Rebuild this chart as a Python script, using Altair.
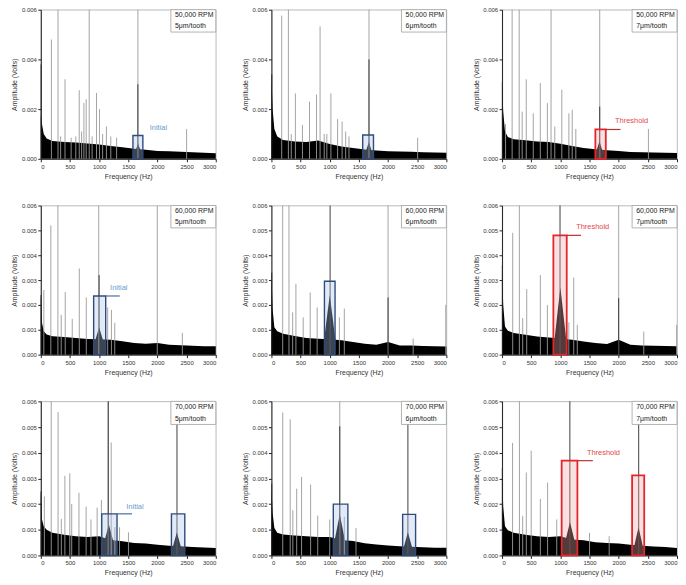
import altair as alt
import pandas as pd

# ---------------- data ----------------
FREQ_GRID = [0, 20, 50, 100, 200, 400, 600, 800, 1000, 1200, 1400, 1600, 1800, 2000, 2200, 2400, 2600, 2800, 3000]

NOISE_11 = [0.00175, 0.0014, 0.001, 0.00082, 0.00072, 0.00068, 0.00066, 0.00062, 0.00058, 0.00052, 0.00046, 0.0004, 0.00036, 0.00031, 0.0003, 0.00028, 0.00026, 0.00024, 0.00022]
NOISE_12 = [0.0033, 0.002, 0.0012, 0.0009, 0.00076, 0.0007, 0.00068, 0.00074, 0.0006, 0.0005, 0.00043, 0.00037, 0.00033, 0.0003, 0.00029, 0.00028, 0.00026, 0.00025, 0.00024]
NOISE_13 = [0.0031, 0.0019, 0.0011, 0.00088, 0.00079, 0.00075, 0.0007, 0.00068, 0.00061, 0.00052, 0.00043, 0.00038, 0.00034, 0.00031, 0.00027, 0.00026, 0.00025, 0.00024, 0.00023]
NOISE_21 = [0.0024, 0.00128, 0.00094, 0.00081, 0.00074, 0.00071, 0.00067, 0.00063, 0.00062, 0.0006, 0.00054, 0.00047, 0.00044, 0.00047, 0.0004, 0.00038, 0.00036, 0.00034, 0.00034]
NOISE_22 = [0.0033, 0.00185, 0.0011, 0.00094, 0.00084, 0.00075, 0.00067, 0.00064, 0.00062, 0.00058, 0.00051, 0.00044, 0.0004, 0.00051, 0.00037, 0.00037, 0.00035, 0.00034, 0.00033]
NOISE_23 = [0.0036, 0.002, 0.00113, 0.00096, 0.00087, 0.0008, 0.00073, 0.00069, 0.00065, 0.0006, 0.00053, 0.00047, 0.00043, 0.0006, 0.0004, 0.00037, 0.00036, 0.00035, 0.00034]
NOISE_31 = [0.0025, 0.0014, 0.00114, 0.001, 0.00088, 0.00081, 0.00075, 0.00072, 0.00075, 0.0006, 0.00055, 0.00048, 0.00046, 0.00042, 0.00038, 0.00036, 0.00033, 0.00031, 0.00029]
NOISE_32 = [0.0027, 0.00166, 0.00107, 0.00088, 0.00082, 0.00078, 0.00075, 0.00072, 0.00072, 0.0006, 0.00056, 0.00047, 0.00043, 0.00039, 0.00036, 0.00034, 0.00032, 0.0003, 0.0003]
NOISE_33 = [0.0034, 0.0019, 0.00114, 0.00098, 0.00088, 0.00081, 0.00075, 0.00072, 0.00075, 0.00062, 0.00059, 0.00051, 0.00048, 0.00046, 0.00042, 0.00038, 0.00035, 0.00033, 0.00029]

# tooth-passing humps: centre, half width, peak
HUMP_11 = ([1667], [90], [0.00062])
HUMP_12 = ([1670], [90], [0.00068])
HUMP_13 = ([1670], [90], [0.00072])
HUMP_21 = ([1000], [140], [0.0011])
HUMP_22 = ([1000], [130], [0.0024])
HUMP_23 = ([1000], [130], [0.0027])
HUMP_31 = ([1167, 2333], [140, 110], [0.0012, 0.0009])
HUMP_32 = ([1172, 2340], [140, 110], [0.0016, 0.0009])
HUMP_33 = ([1165, 2340], [140, 110], [0.0013, 0.0011])

# light (grey) spikes
LIGHT_F_11 = [182, 295, 340, 415, 520, 600, 659, 700, 739, 778, 830, 880, 955, 1006, 1060, 1125, 1200, 1300, 1665, 2500]
LIGHT_A_11 = [0.0048, 0.006, 0.0009, 0.0032, 0.00085, 0.0009, 0.00276, 0.0011, 0.00225, 0.0024, 0.006, 0.0009, 0.00265, 0.002, 0.001, 0.0013, 0.0009, 0.00085, 0.006, 0.0012]
LIGHT_F_12 = [176, 291, 340, 411, 532, 653, 773, 834, 905, 950, 1020, 1135, 1212, 1273, 1330, 1673, 2507]
LIGHT_A_12 = [0.00576, 0.006, 0.001, 0.00263, 0.00136, 0.0023, 0.00259, 0.00533, 0.001, 0.001, 0.00263, 0.0016, 0.0015, 0.0011, 0.0009, 0.006, 0.00085]
LIGHT_F_13 = [60, 173, 294, 345, 415, 535, 656, 777, 840, 904, 1025, 1146, 1203, 1265, 1675, 2510]
LIGHT_A_13 = [0.0014, 0.006, 0.006, 0.0019, 0.0032, 0.00183, 0.00305, 0.00224, 0.006, 0.0013, 0.00278, 0.00183, 0.00197, 0.0012, 0.006, 0.0012]
LIGHT_F_21 = [52, 172, 293, 350, 419, 539, 660, 780, 993, 1147, 1211, 1268, 1997, 2427]
LIGHT_A_21 = [0.0026, 0.0052, 0.006, 0.0016, 0.00252, 0.00144, 0.00347, 0.0023, 0.006, 0.0019, 0.0018, 0.00128, 0.006, 0.00088]
LIGHT_F_22 = [193, 301, 364, 420, 545, 665, 784, 1165, 1250, 2000, 2430, 2989]
LIGHT_A_22 = [0.006, 0.006, 0.0017, 0.00285, 0.0015, 0.0025, 0.0019, 0.0015, 0.00185, 0.006, 0.00065, 0.002]
LIGHT_F_23 = [183, 297, 354, 423, 657, 777, 1145, 1229, 1290, 2000, 2430, 2994]
LIGHT_A_23 = [0.0049, 0.006, 0.00147, 0.00264, 0.0032, 0.002, 0.0013, 0.0031, 0.0012, 0.006, 0.00093, 0.0012]
LIGHT_F_31 = [61, 179, 296, 352, 413, 497, 530, 654, 777, 860, 966, 1039, 1156, 1207, 1270, 1350, 1503]
LIGHT_A_31 = [0.0023, 0.006, 0.00558, 0.00142, 0.0031, 0.0032, 0.002, 0.00244, 0.0019, 0.0014, 0.00186, 0.00216, 0.006, 0.0044, 0.0011, 0.0011, 0.0009]
LIGHT_F_32 = [194, 322, 367, 433, 517, 672, 794, 1000, 1172, 1250, 1450]
LIGHT_A_32 = [0.00557, 0.0053, 0.00176, 0.0026, 0.00306, 0.00276, 0.00155, 0.0014, 0.006, 0.0015, 0.00107]
LIGHT_F_33 = [180, 298, 354, 416, 500, 657, 781, 938, 1500, 1837]
LIGHT_A_33 = [0.00438, 0.006, 0.00153, 0.00323, 0.00408, 0.0022, 0.00284, 0.0014, 0.00088, 0.00075]

# dark spikes
DARK_F_11 = [5, 1665]
DARK_A_11 = [0.0038, 0.003]
DARK_F_12 = [5, 1673]
DARK_A_12 = [0.0034, 0.004]
DARK_F_13 = [5, 1675]
DARK_A_13 = [0.0031, 0.0021]
DARK_F_21 = [5, 1000]
DARK_A_21 = [0.0024, 0.0032]
DARK_F_22 = [5, 1006, 2000]
DARK_A_22 = [0.0033, 0.006, 0.0023]
DARK_F_23 = [5, 994, 2000]
DARK_A_23 = [0.0036, 0.006, 0.00227]
DARK_F_31 = [5, 1156, 2335]
DARK_A_31 = [0.0025, 0.006, 0.006]
DARK_F_32 = [5, 1172, 2340]
DARK_A_32 = [0.0028, 0.00503, 0.006]
DARK_F_33 = [5, 1163, 2343]
DARK_A_33 = [0.0034, 0.006, 0.006]

# highlight boxes: start, end, top
BOX_11 = ([1580], [1750], [0.00094])
BOX_12 = ([1565], [1750], [0.00096])
BOX_13 = ([1600], [1779], [0.00118])
BOX_21 = ([906], [1113], [0.00236])
BOX_22 = ([909], [1091], [0.00295])
BOX_23 = ([880], [1109], [0.0048])
BOX_31 = ([1045, 2240], [1307, 2469], [0.00162, 0.00162])
BOX_32 = ([1061, 2250], [1311, 2472], [0.002, 0.0016])
BOX_33 = ([1022, 2230], [1292, 2438], [0.00369, 0.00312])

# callouts: leader (start, end, level) and label (x, y, text)
LEADER_11 = None
LEADER_21 = (1113, 1354, 0.00236)
LEADER_31 = (1307, 1564, 0.00162)
LEADER_13 = (1779, 2032, 0.00118)
LEADER_23 = (1109, 1354, 0.0048)
LEADER_33 = (1292, 1556, 0.00369)
LABEL_11 = (2017, 0.00125, "Initial")
LABEL_21 = (1337, 0.00267, "Initial")
LABEL_31 = (1615, 0.0019, "Initial")
LABEL_13 = (2220, 0.00153, "Threshold")
LABEL_23 = (1554, 0.00513, "Threshold")
LABEL_33 = (1739, 0.0040, "Threshold")

RPM = ["50,000 RPM", "60,000 RPM", "70,000 RPM"]
FEED = ["5\u03bcm/tooth", "6\u03bcm/tooth", "7\u03bcm/tooth"]
X_TICKS = [0, 500, 1000, 1500, 2000, 2500, 3000]
Y_TICKS_TOP = [0, 0.002, 0.004, 0.006]
Y_TICKS_REST = [0, 0.001, 0.002, 0.003, 0.004, 0.005, 0.006]

G = globals()

# ---------------- styling ----------------
PW = 176
XS = alt.Scale(domain=[0, 3000], nice=False, zero=False)
YS = alt.Scale(domain=[0, 0.006], nice=False)
XAXIS = alt.Axis(values=X_TICKS, title="Frequency (Hz)", format="d")
BLUE = dict(stroke="#2f4b7c", fill="#a9c4e4", lead="#4a6e9e", text="#6a9bd1")
RED = dict(stroke="#e3262b", fill="#f2a7a7", lead="#b8322f", text="#e5484d")


def panel(r, c):
    key = f"{r}{c}"
    yaxis = alt.Axis(values=Y_TICKS_TOP if r == 1 else Y_TICKS_REST, format=".3f",
                     title="Amplitude (Volts)")

    def X(f):
        return alt.X(f, type="quantitative", scale=XS, axis=XAXIS)

    def Y(f):
        return alt.Y(f, type="quantitative", scale=YS, axis=yaxis)

    pal = RED if c == 3 else BLUE
    layers = []

    env = pd.DataFrame({"f": FREQ_GRID, "a": G["NOISE_" + key]})
    layers.append(alt.Chart(env).mark_area(color="black", opacity=1).encode(x=X("f"), y=Y("a")))

    hc, hw, hp = G["HUMP_" + key]
    rows = []
    for i, (cc, ww, pp) in enumerate(zip(hc, hw, hp)):
        rows += [dict(g=i, f=cc - ww, a=0), dict(g=i, f=cc, a=pp), dict(g=i, f=cc + ww, a=0)]
    layers.append(alt.Chart(pd.DataFrame(rows)).mark_area(color="black").encode(
        x=X("f"), y=Y("a"), detail="g:N"))

    light = pd.DataFrame({"f": G["LIGHT_F_" + key], "a": G["LIGHT_A_" + key], "z": 0.0})
    layers.append(alt.Chart(light).mark_rule(color="#9a9a9a", strokeWidth=0.9).encode(
        x=X("f"), y=Y("z"), y2="a"))
    dark = pd.DataFrame({"f": G["DARK_F_" + key], "a": G["DARK_A_" + key], "z": 0.0})
    layers.append(alt.Chart(dark).mark_rule(color="#2a2a2a", strokeWidth=0.9).encode(
        x=X("f"), y=Y("z"), y2="a"))

    b1, b2, bt = G["BOX_" + key]
    boxes = pd.DataFrame({"f1": b1, "f2": b2, "a1": 0.0, "a2": bt})
    layers.append(alt.Chart(boxes).mark_rect(fill=pal["fill"], fillOpacity=0.35,
                                             stroke=pal["stroke"], strokeWidth=1.8 if c == 3 else 1.4).encode(
        x=X("f1"), x2="f2", y=Y("a1"), y2="a2"))

    lead = G.get("LEADER_" + key)
    if lead:
        ld = pd.DataFrame({"f1": [lead[0]], "f2": [lead[1]], "a": [lead[2]]})
        layers.append(alt.Chart(ld).mark_rule(color=pal["lead"], strokeWidth=1.2).encode(
            x=X("f1"), x2="f2", y=Y("a")))
    lab = G.get("LABEL_" + key)
    if lab:
        lb = pd.DataFrame({"f": [lab[0]], "a": [lab[1]], "t": [lab[2]]})
        layers.append(alt.Chart(lb).mark_text(color=pal["text"], fontSize=7.5, align="center",
                                              baseline="middle").encode(
            x=X("f"), y=Y("a"), text="t:N"))

    leg = pd.DataFrame({"f1": [2230], "f2": [3000], "a1": [0.0051], "a2": [0.006]})
    layers.append(alt.Chart(leg).mark_rect(fill="white", stroke="#a0a0a0", strokeWidth=0.8).encode(
        x=X("f1"), x2="f2", y=Y("a1"), y2="a2"))
    legt = pd.DataFrame({"f": [2300, 2300], "a": [0.00577, 0.00533], "t": [RPM[r - 1], FEED[c - 1]]})
    layers.append(alt.Chart(legt).mark_text(color="#222", fontSize=7, align="left",
                                            baseline="middle").encode(
        x=X("f"), y=Y("a"), text="t:N"))

    return alt.layer(*layers).properties(width=PW, height=155 if r == 3 else 150)


rows = [alt.hconcat(*[panel(r, c) for c in (1, 2, 3)], spacing=24) for r in (1, 2, 3)]
chart = alt.vconcat(*rows, spacing=22,
                    padding={"left": 2, "top": -4, "right": 0, "bottom": 0}).configure(
    font="Liberation Sans"
).configure_view(
    stroke="#a8a8a8", strokeWidth=0.8
).configure_axis(
    grid=False, labelFontSize=6, titleFontSize=7, titleFontWeight="normal",
    labelColor="#333", titleColor="#333", domainColor="#222", tickColor="#222",
    tickSize=3, labelPadding=1.5
).configure_axisX(
    titlePadding=3
).configure_axisY(
    titlePadding=3, minExtent=20, maxExtent=20
)

chart.save("out.html", embed_options={"renderer": "svg", "actions": False})
